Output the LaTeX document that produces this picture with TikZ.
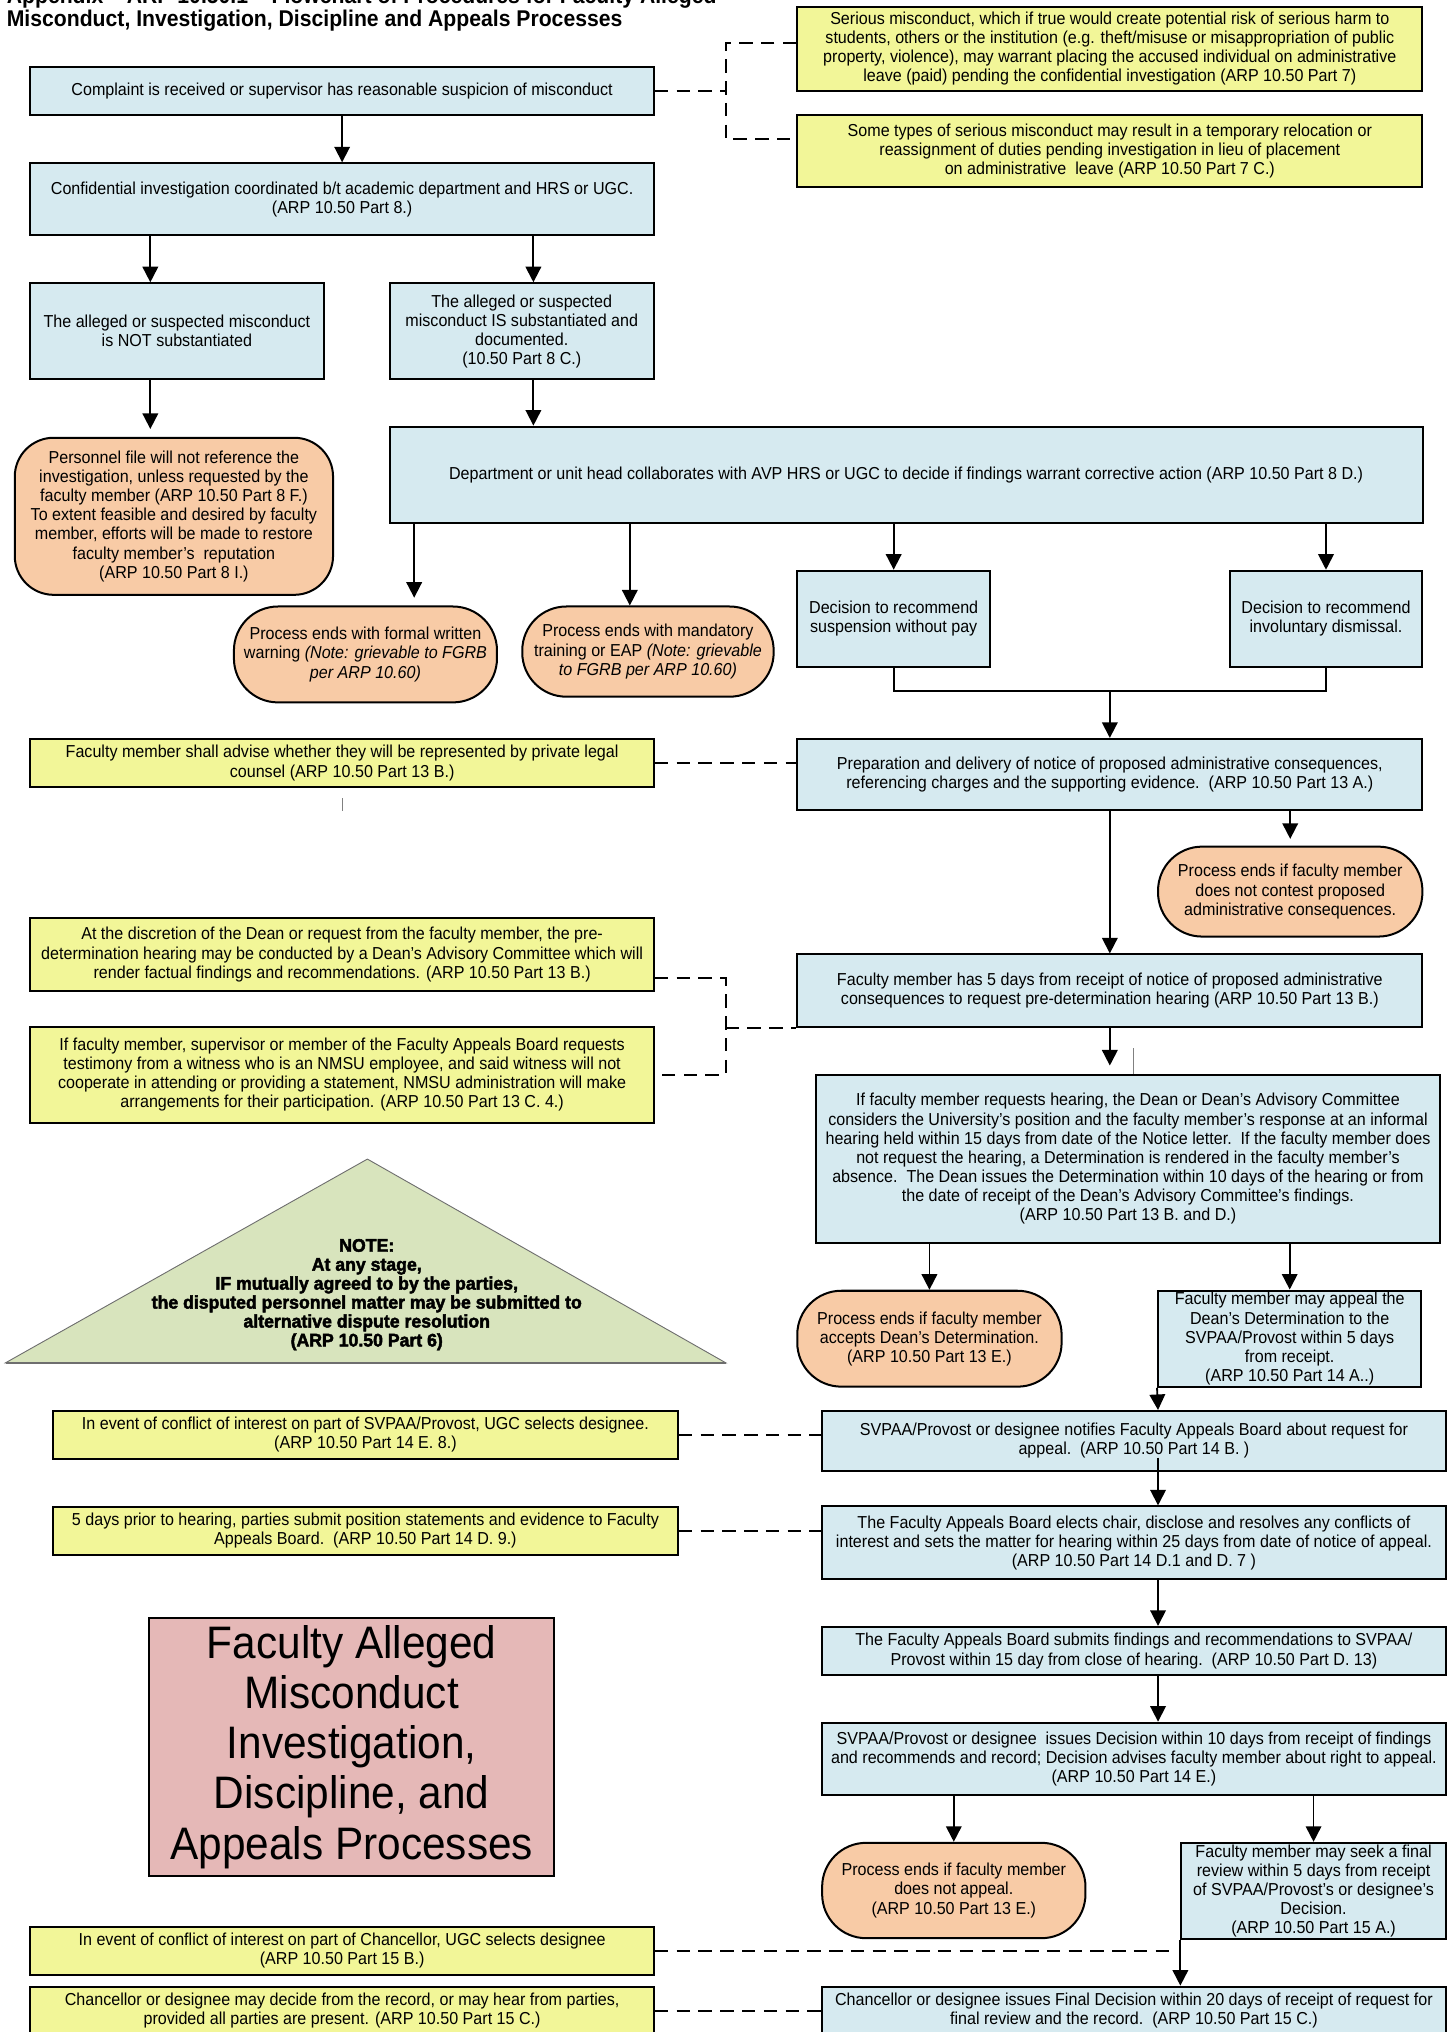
\documentclass[tikz,border=0pt]{standalone}
\usepackage{fontspec}
\setmainfont{Liberation Sans}[FakeStretch=0.93]
\newfontfamily\notafont{Liberation Sans}[UprightFont={* Bold}, FakeBold=2.5, FakeStretch=0.97]
\usetikzlibrary{arrows.meta}

\definecolor{azzurro}{RGB}{214,234,240}
\definecolor{giallo}{RGB}{242,246,152}
\definecolor{arancio}{RGB}{248,203,166}
\definecolor{rosa}{RGB}{229,184,183}
\definecolor{verdenota}{RGB}{216,228,189}
\definecolor{grigiobordo}{RGB}{110,110,110}

\newcommand{\corpo}{\fontsize{9.5}{10.5}\selectfont}

\begin{document}
\begin{tikzpicture}[
  filo/.style={draw=black, line width=1pt},
  freccia/.style={draw=black, line width=1pt, -{Triangle[length=0.3cm, width=0.3cm]}},
  tratteggio/.style={draw=black, line width=1.1pt, dash pattern=on 0.26cm off 0.16cm},
  blocco/.style={draw=black, line width=1.1pt, fill=azzurro, align=center, inner sep=1pt, font=\corpo},
  appunto/.style={blocco, fill=giallo},
  termine/.style={blocco, fill=arancio, rounded corners=0.85cm},
  etichetta/.style={inner sep=0pt, anchor=base west, font=\fontsize{12.5}{14}\selectfont\bfseries}
]
\useasboundingbox (0,0) rectangle (28.05,-39.2);

%--------------------------------------------------------------
% Titolo (la prima riga esce dal foglio)
%--------------------------------------------------------------
\node[etichetta] (titolo1) at (0.125,-0.075) {Appendix -- ARP 10.50.1 -- Flowchart of Procedures for Faculty Alleged};
\node[etichetta] (titolo2) at (0.125,-0.515) {Misconduct, Investigation, Discipline and Appeals Processes};

%--------------------------------------------------------------
% Segnalazione e indagine riservata
%--------------------------------------------------------------
\node[blocco, minimum width=12.03cm, minimum height=0.933cm] (denuncia) at (6.6,-1.751)
  {Complaint is received or supervisor has reasonable suspicion of misconduct};
\node[blocco, minimum width=12.03cm, minimum height=1.385cm] (indagine) at (6.6,-3.843)
  {Confidential investigation coordinated b/t academic department and HRS or UGC.\\(ARP 10.50 Part 8.)};
\node[appunto, minimum width=12.06cm, minimum height=1.63cm] (grave) at (21.41,-0.941)
  {Serious misconduct, which if true would create potential risk of serious harm to\\
   students, others or the institution (e.g. theft/misuse or misappropriation of public\\
   property, violence), may warrant placing the accused individual on administrative\\
   leave (paid) pending the confidential investigation (ARP 10.50 Part 7)};
\node[appunto, minimum width=12.06cm, minimum height=1.38cm] (ricollocazione) at (21.41,-2.91)
  {Some types of serious misconduct may result in a temporary relocation or\\
   reassignment of duties pending investigation in lieu of placement\\
   on administrative\ \ leave (ARP 10.50 Part 7 C.)};
\coordinate (d1) at (14.0,-0.825);
\coordinate (d2) at (14.0,-2.675);
\draw[tratteggio] (denuncia.east) -- (denuncia.east -| d1);
\draw[tratteggio] (d1 -| grave.west) -- (d1) -- (d2) -- (d2 -| ricollocazione.west);
\draw[freccia] (denuncia) -- (indagine);

%--------------------------------------------------------------
% Esito dell'indagine
%--------------------------------------------------------------
\coordinate (xa) at (2.9,0);
\coordinate (xb) at (10.29,0);
\node[blocco, minimum width=5.66cm, minimum height=1.85cm] (nonsost) at (3.4125,-6.39)
  {The alleged or suspected misconduct\\ is NOT substantiated};
\node[blocco, minimum width=5.1cm, minimum height=1.85cm] (sost) at (10.065,-6.39)
  {The alleged or suspected\\ misconduct IS substantiated and\\ documented.\\ (10.50 Part 8 C.)};
\node[termine, rounded corners=0.75cm, minimum width=6.14cm, minimum height=3.03cm] (fascicolo) at (3.355,-9.96)
  {Personnel file will not reference the\\ investigation, unless requested by the\\
   faculty member (ARP 10.50 Part 8 F.)\\ To extent feasible and desired by faculty\\
   member, efforts will be made to restore\\ faculty member’s\ \ reputation\\ (ARP 10.50 Part 8 I.)};
\node[blocco, minimum width=19.93cm, minimum height=1.85cm] (collab) at (17.48,-9.155)
  {Department or unit head collaborates with AVP HRS or UGC to decide if findings warrant corrective action (ARP 10.50 Part 8 D.)};
\draw[freccia] (indagine.south -| xa) -- (nonsost.north -| xa);
\draw[freccia] (indagine.south -| xb) -- (sost.north -| xb);
\draw[freccia, shorten >=0.15cm] (nonsost.south -| xa) -- (fascicolo.north -| xa);
\draw[freccia] (sost.south -| xb) -- (collab.north -| xb);

%--------------------------------------------------------------
% Azioni correttive
%--------------------------------------------------------------
\coordinate (xc) at (7.99,0);
\coordinate (xd) at (12.15,0);
\node[termine, minimum width=5.075cm, minimum height=1.85cm] (ammonimento) at (7.05,-12.625)
  {Process ends with formal written\\ warning \textit{(Note: grievable to FGRB}\\ \textit{per ARP 10.60)}};
\node[termine, minimum width=4.85cm, minimum height=1.74cm] (formazione) at (12.5,-12.57)
  {Process ends with mandatory\\ training or EAP \textit{(Note: grievable}\\ \textit{to FGRB per ARP 10.60)}};
\node[blocco, minimum width=3.715cm, minimum height=1.85cm] (sospensione) at (17.24,-11.935)
  {Decision to recommend\\ suspension without pay};
\node[blocco, minimum width=3.715cm, minimum height=1.85cm] (licenziamento) at (25.58,-11.935)
  {Decision to recommend\\ involuntary dismissal.};
\draw[freccia, shorten >=0.15cm] (collab.south -| xc) -- (ammonimento.north -| xc);
\draw[freccia] (collab.south -| xd) -- (formazione.north -| xd);
\draw[freccia] (collab.south -| sospensione.north) -- (sospensione.north);
\draw[freccia] (collab.south -| licenziamento.north) -- (licenziamento.north);

%--------------------------------------------------------------
% Preavviso e udienza pre-determinazione
%--------------------------------------------------------------
\node[blocco, minimum width=12.06cm, minimum height=1.37cm] (preavviso) at (21.41,-14.94)
  {Preparation and delivery of notice of proposed administrative consequences,\\
   referencing charges and the supporting evidence.\ \ (ARP 10.50 Part 13 A.)};
\node[appunto, minimum width=12.03cm, minimum height=0.92cm] (legale) at (6.6,-14.72)
  {Faculty member shall advise whether they will be represented by private legal\\ counsel (ARP 10.50 Part 13 B.)};
\coordinate (giunto) at (21.41,-13.325);
\draw[filo] (sospensione.south) |- (giunto) -| (licenziamento.south);
\draw[freccia] (giunto) -- (preavviso.north);
\draw[tratteggio] (legale.east) -- (legale.east -| preavviso.west);
\draw[draw=gray, line width=0.5pt] (6.6,-15.4) -- (6.6,-15.65);

\node[termine, minimum width=5.1cm, minimum height=1.735cm] (noncontesta) at (24.89,-17.2)
  {Process ends if faculty member\\ does not contest proposed\\ administrative consequences.};
\node[blocco, minimum width=12.06cm, minimum height=1.395cm] (cinquegiorni) at (21.41,-19.11)
  {Faculty member has 5 days from receipt of notice of proposed administrative\\
   consequences to request pre-determination hearing (ARP 10.50 Part 13 B.)};
\draw[freccia, shorten >=0.13cm] (preavviso.south -| noncontesta.north) -- (noncontesta.north);
\draw[freccia] (preavviso) -- (cinquegiorni);

\node[appunto, minimum width=12.03cm, minimum height=1.395cm] (discrezione) at (6.6,-18.415)
  {At the discretion of the Dean or request from the faculty member, the pre-\\
   determination hearing may be conducted by a Dean’s Advisory Committee which will\\
   render factual findings and recommendations. (ARP 10.50 Part 13 B.)};
\node[appunto, minimum width=12.03cm, minimum height=1.85cm] (testimone) at (6.6,-20.73)
  {If faculty member, supervisor or member of the Faculty Appeals Board requests\\
   testimony from a witness who is an NMSU employee, and said witness will not\\
   cooperate in attending or providing a statement, NMSU administration will make\\
   arrangements for their participation. (ARP 10.50 Part 13 C. 4.)};
\coordinate (d3) at (14.0,-18.87);
\coordinate (d4) at (14.0,-20.73);
\draw[tratteggio] (discrezione.east |- d3) -- (d3) -- (d4) -- (testimone.east);
\draw[tratteggio] (d3 |- cinquegiorni.south west) -- (cinquegiorni.south west);

\node[blocco, minimum width=12.03cm, minimum height=3.24cm] (udienza) at (21.76,-22.355)
  {If faculty member requests hearing, the Dean or Dean’s Advisory Committee\\
   considers the University’s position and the faculty member’s response at an informal\\
   hearing held within 15 days from date of the Notice letter.\ \ If the faculty member does\\
   not request the hearing, a Determination is rendered in the faculty member’s\\
   absence.\ \ The Dean issues the Determination within 10 days of the hearing or from\\
   the date of receipt of the Dean’s Advisory Committee’s findings.\\
   (ARP 10.50 Part 13 B. and D.)};
\draw[freccia, shorten >=0.16cm] (cinquegiorni.south -| preavviso.south) -- (udienza.north -| preavviso.south);
\draw[draw=gray, line width=0.5pt] (udienza.north -| 21.875,0) -- ++(0,0.49);

%--------------------------------------------------------------
% Determinazione del Dean
%--------------------------------------------------------------
\node[termine, minimum width=5.1cm, minimum height=1.85cm] (accetta) at (17.93,-25.825)
  {Process ends if faculty member\\ accepts Dean’s Determination.\\ (ARP 10.50 Part 13 E.)};
\node[blocco, minimum width=5.08cm, minimum height=1.85cm] (ricorso) at (24.88,-25.825)
  {Faculty member may appeal the\\ Dean’s Determination to the\\ SVPAA/Provost within 5 days\\ from receipt.\\ (ARP 10.50 Part 14 A..)};
\draw[freccia] (udienza.south -| accetta.north) -- (accetta.north);
\draw[freccia] (udienza.south -| ricorso.north) -- (ricorso.north);

%--------------------------------------------------------------
% Nota: risoluzione alternativa delle controversie
%--------------------------------------------------------------
\coordinate (vertice) at (7.0875,-22.36);
\coordinate (basesx) at (0.1075,-26.29);
\coordinate (basedx) at (14.0,-26.29);
\filldraw[fill=verdenota, draw=grigiobordo, line width=0.5pt] (vertice) -- (basedx) -- (basesx) -- cycle;
\draw[draw=grigiobordo, line width=1.2pt] (basesx) -- (basedx);
\node[align=center, inner sep=0pt, font=\notafont\fontsize{10}{10.4}\selectfont] (adr) at (7.075,-24.975)
  {NOTE:\\ At any stage,\\ IF mutually agreed to by the parties,\\ the disputed personnel matter may be submitted to\\
   alternative dispute resolution\\ (ARP 10.50 Part 6)};

%--------------------------------------------------------------
% Ricorso al Faculty Appeals Board
%--------------------------------------------------------------
\coordinate (xg) at (22.34,0);
\node[blocco, minimum width=12.03cm, minimum height=1.15cm] (notifica) at (21.875,-27.795)
  {SVPAA/Provost or designee notifies Faculty Appeals Board about request for\\ appeal.\ \ (ARP 10.50 Part 14 B. )};
\node[appunto, minimum width=12.05cm, minimum height=0.925cm] (conflittosvpaa) at (7.05,-27.68)
  {In event of conflict of interest on part of SVPAA/Provost, UGC selects designee.\\ (ARP 10.50 Part 14 E. 8.)};
\node[blocco, minimum width=12.03cm, minimum height=1.4cm] (elezione) at (21.875,-29.76)
  {The Faculty Appeals Board elects chair, disclose and resolves any conflicts of\\
   interest and sets the matter for hearing within 25 days from date of notice of appeal.\\
   (ARP 10.50 Part 14 D.1 and D. 7 )};
\node[appunto, minimum width=12.05cm, minimum height=0.935cm] (memorie) at (7.05,-29.53)
  {5 days prior to hearing, parties submit position statements and evidence to Faculty\\ Appeals Board.\ \ (ARP 10.50 Part 14 D. 9.)};
\node[blocco, minimum width=12.03cm, minimum height=0.93cm] (risultanze) at (21.875,-31.85)
  {The Faculty Appeals Board submits findings and recommendations to SVPAA/\\
   Provost within 15 day from close of hearing.\ \ (ARP 10.50 Part D. 13)};
\node[blocco, minimum width=12.03cm, minimum height=1.395cm] (decisione) at (21.875,-33.93)
  {SVPAA/Provost or designee\ \ issues Decision within 10 days from receipt of findings\\
   and recommends and record; Decision advises faculty member about right to appeal.\\
   (ARP 10.50 Part 14 E.)};
\draw[freccia] (ricorso.south west) -- (notifica.north -| xg);
\draw[freccia] ([yshift=0.27cm]notifica.south -| xg) -- (elezione.north -| xg);
\draw[freccia] (elezione.south -| xg) -- (risultanze.north -| xg);
\draw[freccia] (risultanze.south -| xg) -- (decisione.north -| xg);
\draw[tratteggio] (conflittosvpaa.east) -- (conflittosvpaa.east -| notifica.west);
\draw[tratteggio] (memorie.east) -- (memorie.east -| elezione.west);

%--------------------------------------------------------------
% Riesame finale del Chancellor
%--------------------------------------------------------------
\node[termine, minimum width=5.08cm, minimum height=1.84cm] (nonricorre) at (18.4,-36.47)
  {Process ends if faculty member\\ does not appeal.\\ (ARP 10.50 Part 13 E.)};
\node[blocco, minimum width=5.1cm, minimum height=1.86cm] (riesame) at (25.34,-36.48)
  {Faculty member may seek a final\\ review within 5 days from receipt\\ of SVPAA/Provost’s or designee’s\\ Decision.\\ (ARP 10.50 Part 15 A.)};
\node[blocco, minimum width=12.03cm, minimum height=0.93cm] (finale) at (21.875,-38.79)
  {Chancellor or designee issues Final Decision within 20 days of receipt of request for\\
   final review and the record.\ \ (ARP 10.50 Part 15 C.)};
\node[appunto, minimum width=12.03cm, minimum height=0.93cm] (conflittocanc) at (6.6,-37.635)
  {In event of conflict of interest on part of Chancellor, UGC selects designee\\ (ARP 10.50 Part 15 B.)};
\node[appunto, minimum width=12.03cm, minimum height=0.93cm] (registro) at (6.6,-38.79)
  {Chancellor or designee may decide from the record, or may hear from parties,\\
   provided all parties are present. (ARP 10.50 Part 15 C.)};
\draw[freccia] (decisione.south -| nonricorre.north) -- (nonricorre.north);
\draw[freccia] (decisione.south -| riesame.north) -- (riesame.north);
\draw[freccia] (riesame.south west) -- (finale.north -| riesame.south west);
\draw[tratteggio] (conflittocanc.east) -- ([xshift=-0.2cm]conflittocanc.east -| riesame.west);
\draw[tratteggio] (registro.east) -- (registro.east -| finale.west);

%--------------------------------------------------------------
% Cartiglio
%--------------------------------------------------------------
\node[draw=black, line width=1.1pt, fill=rosa, align=center, inner sep=1pt,
      minimum width=7.81cm, minimum height=4.98cm, font=\fontsize{25}{27.6}\selectfont] (cartiglio) at (6.785,-33.7)
  {Faculty Alleged\\ Misconduct\\ Investigation,\\ Discipline, and\\ Appeals Processes};

\end{tikzpicture}
\end{document}
